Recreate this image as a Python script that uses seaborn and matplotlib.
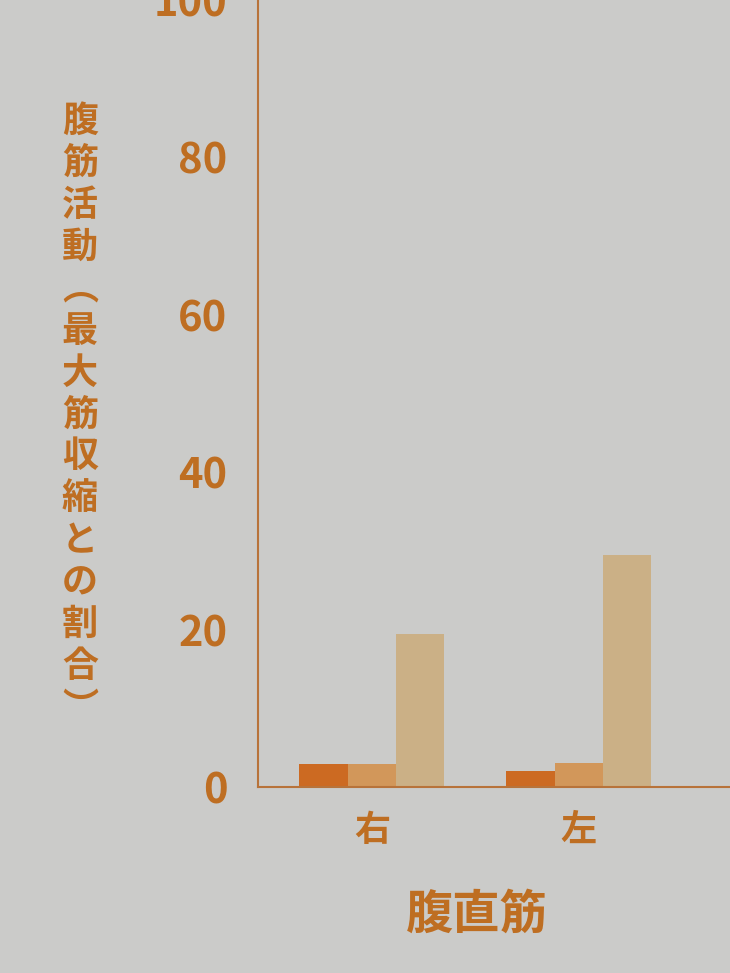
import pandas as pd
import matplotlib.pyplot as plt
import seaborn as sns

# values (percent of max contraction)
sides = ['右', '左']
series = ['A', 'B', 'C']
vals_a = [2.9, 2.0]
vals_b = [2.9, 3.0]
vals_c = [19.4, 29.5]
yticks = [0, 20, 40, 60, 80, 100]

ylabel = '腹筋活動︵最大筋収縮との割合︶'
xlabel = '腹直筋'

rows = []
for i, s in enumerate(sides):
    for name, v in zip(series, [vals_a, vals_b, vals_c]):
        rows.append({'side': s, 'series': name, 'value': v[i]})
df = pd.DataFrame(rows)

sns.set_style('white')
plt.rcParams['font.family'] = ['Noto Sans CJK JP', 'DejaVu Sans']

orange = '#BE6E22'
bg = '#CBCBC9'
palette = ['#CC6A22', '#D2975A', '#CBB086']

fig = plt.figure(figsize=(7.3, 9.73), dpi=100, facecolor=bg)
ax = fig.add_axes([258 / 730, 0.1912, 472 / 730, 0.8088])
ax.set_facecolor(bg)

sns.barplot(data=df, x='side', y='value', hue='series', palette=palette,
            width=0.7, saturation=1, legend=False, linewidth=0, ax=ax)

ax.set_ylim(0, 100)
ax.set_xlim(-0.55, 1.73)
ax.set_yticks(yticks)
ax.set_yticklabels([str(t) for t in yticks])
ax.tick_params(axis='y', length=0, pad=22, labelsize=30, labelcolor=orange)
ax.tick_params(axis='x', length=0, pad=18, labelsize=26, labelcolor=orange)
for lab in ax.get_xticklabels() + ax.get_yticklabels():
    lab.set_fontweight('bold')

ax.set_xlabel('')
ax.set_ylabel('')
for side in ['top', 'right']:
    ax.spines[side].set_visible(False)
for side in ['left', 'bottom']:
    ax.spines[side].set_color('#B8733A')
    ax.spines[side].set_linewidth(1.5)

# stacked vertical axis title, x title under the bars
fig.text(80 / 730, 1 - 415 / 973, '\n'.join(ylabel), ha='center', va='center',
         fontsize=26, fontweight='bold', color=orange, linespacing=1.17)
fig.text(477 / 730, 1 - 915 / 973, xlabel, ha='center', va='center',
         fontsize=34, fontweight='bold', color=orange)

fig.savefig('out.png', dpi=100, facecolor=bg)
